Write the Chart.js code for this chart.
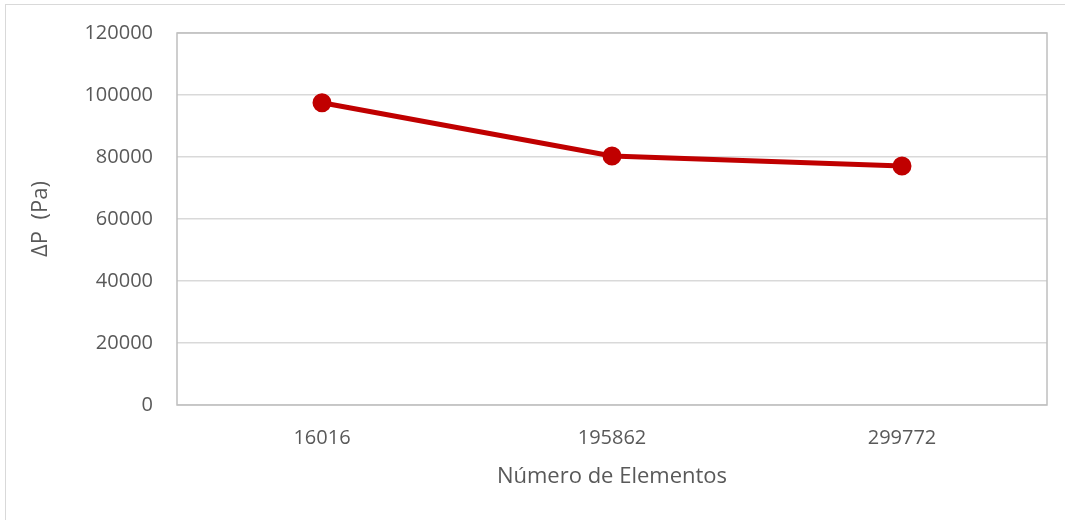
<!DOCTYPE html>
<html>
<head>
<meta charset="utf-8">
<script src="https://cdn.jsdelivr.net/npm/chart.js@4.4.1/dist/chart.umd.min.js"></script>
<style>
  html, body { margin: 0; padding: 0; background: #fff; }
  #wrap { position: relative; width: 1065px; height: 520px; }
  #frame { position: absolute; left: 5px; top: 4px; width: 1070px; height: 530px; border: 1px solid #d9d9d9; box-sizing: border-box; }
  canvas { position: absolute; left: 0; top: 0; }
</style>
</head>
<body>
<div id="wrap">
  <div id="frame"></div>
  <canvas id="chart" width="1065" height="520"></canvas>
</div>
<script>
const elementos = ['16016', '195862', '299772'];
const deltaP = [97500, 80300, 77100];
const yTicks = [0, 20000, 40000, 60000, 80000, 100000, 120000];

const txt = '#595959';
const font = "'Open Sans', 'Liberation Sans', sans-serif";

// box around the plot area, like the spreadsheet chart
const plotBorder = {
  id: 'plotBorder',
  afterDraw(chart) {
    const a = chart.chartArea, c = chart.ctx;
    c.save();
    c.strokeStyle = '#bfbfbf';
    c.lineWidth = 1.5;
    c.strokeRect(a.left, a.top, a.right - a.left, a.bottom - a.top);
    c.restore();
  }
};

new Chart(document.getElementById('chart'), {
  type: 'line',
  data: {
    labels: elementos,
    datasets: [{
      data: deltaP,
      borderColor: '#c00000',
      backgroundColor: '#c00000',
      borderWidth: 5,
      pointRadius: 7,
      pointHoverRadius: 7,
      tension: 0
    }]
  },
  options: {
    responsive: false,
    animation: false,
    layout: { padding: { left: 20, right: 18, top: 33, bottom: 20 } },
    plugins: { legend: { display: false }, tooltip: { enabled: false } },
    scales: {
      x: {
        offset: true,
        grid: { display: false },
        border: { display: false },
        ticks: { color: txt, font: { family: font, size: 20 }, padding: 13 },
        title: { display: true, text: 'Número de Elementos', color: txt, font: { family: font, size: 22 }, padding: { top: 4, bottom: 10 } },
        afterFit: s => { s.height = 95; s.paddingLeft = 0; s.paddingRight = 0; }
      },
      y: {
        min: 0,
        max: 120000,
        afterBuildTicks: s => { s.ticks = yTicks.map(v => ({ value: v })); },
        grid: { color: '#d9d9d9', lineWidth: 1.5, drawTicks: false },
        border: { display: false },
        ticks: { color: txt, font: { family: font, size: 20 }, padding: 24, callback: v => String(v) },
        title: { display: true, text: 'ΔP  (Pa)', color: txt, font: { family: font, size: 22 }, padding: { top: 8, bottom: 0 } },
        afterFit: s => { s.width = 157; s.paddingTop = 0; s.paddingBottom = 0; }
      }
    }
  },
  plugins: [plotBorder]
});
</script>
</body>
</html>
